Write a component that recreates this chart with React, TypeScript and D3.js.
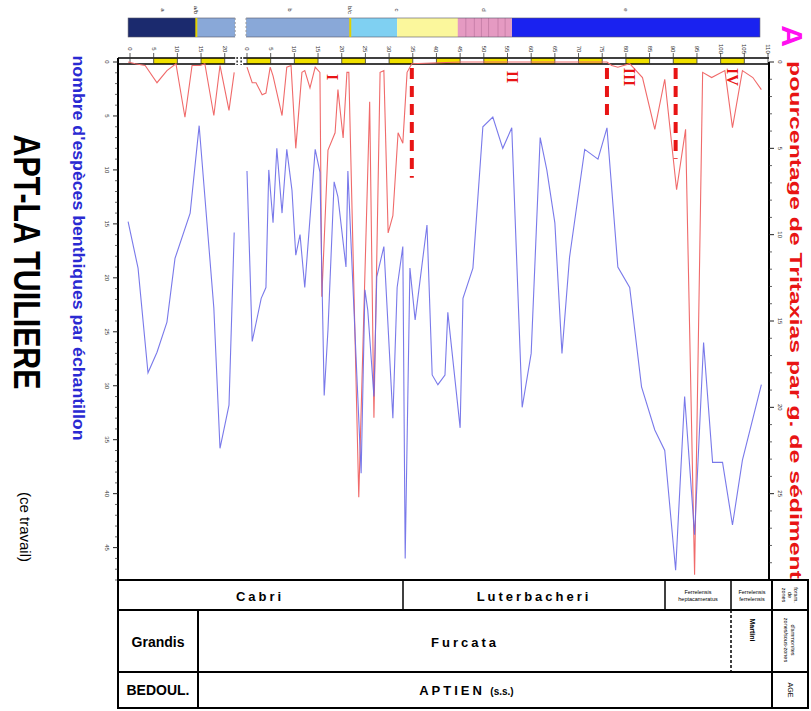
import React from 'react';
import * as d3 from 'd3';

// levels along the section (top axis) : lower part (before the gap) and upper part
const lowerLevels = [0, 5, 10, 15, 20];
const upperLevels = [0, 5, 10, 15, 20, 25, 30, 35, 40, 45, 50, 55, 60, 65, 70, 75, 80, 85, 90, 95, 100, 105, 110];
const lowerYellow = [5, 15];
const upperYellow = [0, 10, 20, 30, 40, 50, 60, 70, 80, 90, 100];

const countTicks = [0, 5, 10, 15, 20, 25, 30, 35, 40, 45];
const pctTicks = [0, 5, 10, 15, 20, 25];

// nombre d'especes benthiques (blue)
const benthicLevelsA = [-0.4, 1.7, 3.8, 5.7, 7.8, 9.5, 12.7, 14.6, 17.7, 19.0, 20.9, 22.0];
const benthicCountA = [14.8, 19.1, 28.8, 26.9, 24.1, 18.2, 14.0, 5.9, 22.8, 35.8, 31.8, 15.8];
const benthicLevelsB = [0, 1.1, 3.0, 4.0, 4.6, 5.5, 6.3, 7.4, 8.4, 9.5, 10.3, 11.2, 12.2, 14.4, 15.4, 16.3, 17.1, 18.4, 19.2, 20.9, 21.3, 24.1, 24.9, 25.5, 26.8, 27.4, 28.9, 30.8, 31.7, 32.9, 33.4, 34.4, 35.5, 38.0, 39.1, 40.3, 41.8, 42.4, 45.0, 45.6, 47.7, 49.8, 51.9, 54.0, 55.9, 58.1, 60.0, 61.9, 63.3, 65.0, 66.5, 68.1, 71.3, 74.1, 76.0, 78.3, 80.8, 83.3, 86.1, 88.2, 90.5, 92.4, 94.5, 96.4, 98.3, 100.4, 102.5, 104.6, 108.6];
const benthicCountB = [10.1, 25.9, 21.9, 20.9, 10.0, 14.9, 8.0, 14.0, 8.1, 11.9, 17.9, 16.0, 20.9, 8.1, 10.2, 30.9, 24.8, 11.1, 12.5, 19.0, 10.1, 38.1, 21.1, 23.0, 31.0, 19.9, 17.1, 33.0, 20.9, 17.1, 46.0, 19.1, 23.9, 15.1, 29.0, 29.9, 29.0, 23.2, 33.9, 21.9, 19.1, 6.0, 5.1, 8.0, 6.1, 32.0, 27.0, 7.0, 10.0, 14.9, 27.0, 18.1, 8.1, 9.0, 6.1, 19.0, 20.9, 30.1, 34.1, 36.0, 47.1, 31.0, 43.8, 26.0, 37.1, 37.1, 42.9, 36.9, 29.9];

// pourcentage de Tritaxias (red)
const tritaxLevelsA = [-0.4, 1.1, 3.2, 5.7, 7.8, 9.7, 11.6, 13.1, 14.8, 15.8, 17.7, 19.0, 20.9, 22.0];
const tritaxPctA = [0, 0.1, 0.2, 1.2, 0.5, 0.1, 3.2, 0.2, 0.2, 0.1, 3.1, 0.2, 2.8, 0.6];
const tritaxLevelsB = [0, 1.1, 1.9, 3.2, 4.0, 4.9, 5.5, 7.4, 8.4, 9.3, 10.3, 11.6, 12.2, 13.3, 14.4, 15.4, 15.8, 17.1, 18.6, 19.2, 20.3, 21.1, 21.5, 23.6, 25.9, 26.8, 28.1, 28.9, 29.8, 30.8, 31.9, 32.9, 33.8, 34.8, 45.0, 60.0, 76.0, 77.0, 78.3, 80.8, 83.5, 86.1, 88.2, 90.7, 92.6, 94.5, 96.2, 98.1, 100.9, 102.5, 104.6, 106.8, 108.6];
const tritaxPctB = [0.3, 1.2, 1.2, 1.9, 1.8, 0.3, 0.8, 3.1, 0.3, 0.2, 5.0, 0.6, 0.5, 1.5, 0.3, 0.6, 13.6, 5.1, 4.1, 1.6, 4.4, 0.6, 0.6, 25.2, 2.3, 20.6, 0.6, 0.5, 9.9, 8.9, 4.1, 4.7, 0.6, 0.1, 0, 0, 0, 0.2, 0.3, 0.1, 0.9, 3.9, 1.0, 7.4, 3.9, 29.7, 0.6, 0.9, 0.5, 3.8, 0.5, 0.9, 1.6];

// sequence band above the log (levels, part 0 = lower, 1 = upper)
const bandNames = ['a', 'b', 'b', 'c', 'd', 'e'];
const bandPart = [0, 0, 1, 1, 1, 1];
const bandFrom = [-0.4, 14.0, -0.2, 21.8, 31.7, 55.9];
const bandTo = [14.0, 22.2, 21.8, 31.7, 55.9, 108.3];
const bandColors = ['#1b2a6e', '#89a8d8', '#89a8d8', '#7fd0f2', '#fbf79c', '#1a22f0'];
const bandLabels = ['a', 'a/b', 'b', 'b/c', 'c', 'd', 'e'];
const bandLabelPart = [0, 0, 1, 1, 1, 1, 1];
const bandLabelAt = [7, 14.0, 9, 21.8, 31.7, 50, 80];
const pinkFrom = 44.5;
const pinkTo = 55.9;
const pinkStripes = [46.2, 48.0, 49.5, 51.0, 53.0, 54.5];

// limits between assemblages (dashed red) and their numbers
const limitLevels = [34.8, 76.0, 90.5];
const limitDepth = [6.7, 3.2, 5.6];
const assemblageNames = ['I', 'II', 'III', 'IV'];
const assemblageAt = [18.0, 56.1, 80.8, 102.5];

const GAP = 24.7;
const FONT = 'Liberation Sans, Arial, sans-serif';

export default function App() {
  const xs = d3.scaleLinear().domain([0, 134.7]).range([130, 768]);
  const X = (part: number, v: number) => xs(part === 0 ? v : v + GAP);
  const yL = d3.scaleLinear().domain([0, 48]).range([62, 580]);
  const yR = d3.scaleLinear().domain([0, 30]).range([62, 580]);

  const blueLine = d3.line<[number, number]>().x(d => d[0]).y(d => yL(d[1]));
  const redLine = d3.line<[number, number]>().x(d => d[0]).y(d => yR(d[1]));
  const zip = (part: number, a: number[], b: number[]) => a.map((v, i) => [X(part, v), b[i]] as [number, number]);

  const left = 118, right = 769, top = 62, bottom = 580;
  const barTop = 58, barBot = 64;

  const rot = (x: number, y: number) => `translate(${x},${y}) rotate(90)`;

  return (
    <svg width={811} height={711} style={{ position: 'absolute', left: 0, top: 0, background: '#fff' }} fontFamily={FONT}>
      {/* sequence band */}
      {bandNames.map((n, i) => (
        <rect key={'b' + i} x={X(bandPart[i], bandFrom[i])} y={18} width={X(bandPart[i], bandTo[i]) - X(bandPart[i], bandFrom[i])} height={19} fill={bandColors[i]} />
      ))}
      <rect x={X(1, pinkFrom)} y={18} width={X(1, pinkTo) - X(1, pinkFrom)} height={19} fill="#e59ac2" />
      {pinkStripes.map((s, i) => (
        <line key={'p' + i} x1={X(1, s)} x2={X(1, s)} y1={18} y2={37} stroke="#c27aa3" strokeWidth={0.8} />
      ))}
      <rect x={X(0, -0.4)} y={18} width={X(1, 108.3) - X(0, -0.4)} height={19} fill="none" stroke="#556" strokeWidth={0.6} />
      <rect x={X(0, 22.2)} y={17} width={X(1, -0.2) - X(0, 22.2)} height={21} fill="#fff" />
      <line x1={X(0, 22.2)} x2={X(0, 22.2)} y1={18} y2={37} stroke="#999" strokeDasharray="2 2" />
      <line x1={X(1, -0.2)} x2={X(1, -0.2)} y1={18} y2={37} stroke="#999" strokeDasharray="2 2" />
      <line x1={X(0, 14.0)} x2={X(0, 14.0)} y1={18} y2={37} stroke="#e2d000" strokeWidth={2} />
      <line x1={X(1, 21.8)} x2={X(1, 21.8)} y1={18} y2={37} stroke="#e2d000" strokeWidth={2} />
      {bandLabels.map((t, i) => (
        <text key={'bl' + i} transform={rot(X(bandLabelPart[i], bandLabelAt[i]), 10)} fontSize={6} textAnchor="middle" dominantBaseline="central" fill="#333">{t}</text>
      ))}

      {/* top level bar */}
      <rect x={left} y={barTop} width={right - left} height={barBot - barTop} fill="#fff" />
      {lowerYellow.map((v, i) => (
        <rect key={'ly' + i} x={X(0, v)} y={barTop} width={X(0, v + 5) - X(0, v)} height={barBot - barTop} fill="#f0e000" />
      ))}
      {upperYellow.map((v, i) => (
        <rect key={'uy' + i} x={X(1, v)} y={barTop} width={X(1, v + 5) - X(1, v)} height={barBot - barTop} fill="#f0e000" />
      ))}
      <line x1={left} x2={right} y1={barTop} y2={barTop} stroke="#000" strokeWidth={1.6} />
      <line x1={left} x2={right} y1={barBot} y2={barBot} stroke="#000" strokeWidth={1.6} />
      <rect x={X(0, 22.2)} y={barTop - 2} width={X(1, -0.8) - X(0, 22.2)} height={barBot - barTop + 4} fill="#fff" />
      {[0, 1].map(k => (
        <g key={'brk' + k}>
          <line x1={X(0, 22.2) + 2 + k * 4} x2={X(0, 22.2) + 2 + k * 4} y1={barTop - 1} y2={barBot + 1} stroke="#333" strokeWidth={1.5} strokeDasharray="2 1.5" />
        </g>
      ))}
      {lowerLevels.map(v => (
        <g key={'lt' + v}>
          <line x1={X(0, v)} x2={X(0, v)} y1={barTop - 5} y2={barBot} stroke="#333" strokeWidth={0.8} />
          <text transform={rot(X(0, v), 49)} fontSize={6} textAnchor="middle" dominantBaseline="central" fill="#333">{v}</text>
        </g>
      ))}
      {upperLevels.map(v => (
        <g key={'ut' + v}>
          <line x1={X(1, v)} x2={X(1, v)} y1={barTop - 5} y2={barBot} stroke="#333" strokeWidth={0.8} />
          <text transform={rot(X(1, v), 49)} fontSize={6} textAnchor="middle" dominantBaseline="central" fill="#333">{v}</text>
        </g>
      ))}

      {/* left axis */}
      <line x1={left} x2={left} y1={barTop} y2={bottom} stroke="#000" strokeWidth={2} />
      {d3.range(0, 49).map(v => (
        <line key={'lm' + v} x1={left - (v % 5 === 0 ? 5 : 3)} x2={left} y1={yL(v)} y2={yL(v)} stroke="#222" strokeWidth={v % 5 === 0 ? 1 : 0.7} />
      ))}
      {countTicks.map(v => (
        <text key={'lc' + v} transform={rot(left - 11, yL(v))} fontSize={6} textAnchor="middle" dominantBaseline="central" fill="#333">{v}</text>
      ))}

      {/* right axis */}
      <line x1={right} x2={right} y1={top} y2={bottom} stroke="#000" strokeWidth={2} />
      {d3.range(0, 31).map(v => (
        <line key={'rm' + v} x1={right} x2={right + (v % 5 === 0 ? 5 : 3)} y1={yR(v)} y2={yR(v)} stroke="#222" strokeWidth={v % 5 === 0 ? 1 : 0.7} />
      ))}
      {pctTicks.map(v => (
        <text key={'rc' + v} transform={rot(right + 11, yR(v))} fontSize={6} textAnchor="middle" dominantBaseline="central" fill="#333">{v}</text>
      ))}

      {/* curves */}
      <path d={redLine(zip(0, tritaxLevelsA, tritaxPctA)) || ''} fill="none" stroke="#f06a6a" strokeWidth={1.1} />
      <path d={redLine(zip(1, tritaxLevelsB, tritaxPctB)) || ''} fill="none" stroke="#f06a6a" strokeWidth={1.1} />
      <path d={blueLine(zip(0, benthicLevelsA, benthicCountA)) || ''} fill="none" stroke="#6a6ae8" strokeWidth={1.1} strokeOpacity={0.9} />
      <path d={blueLine(zip(1, benthicLevelsB, benthicCountB)) || ''} fill="none" stroke="#6a6ae8" strokeWidth={1.1} strokeOpacity={0.9} />

      {/* assemblage limits */}
      {limitLevels.map((v, i) => (
        <line key={'lim' + i} x1={X(1, v)} x2={X(1, v)} y1={yR(0.35)} y2={yR(limitDepth[i])} stroke="#e81414" strokeWidth={4} strokeDasharray="11 7" />
      ))}
      {assemblageNames.map((t, i) => (
        <text key={'as' + i} transform={rot(X(1, assemblageAt[i]), 77)} fontSize={16} fontWeight="bold" fontFamily="Liberation Serif, Times New Roman, serif" textAnchor="middle" dominantBaseline="central" fill="#e81414">{t}</text>
      ))}

      {/* titles */}
      <text transform={rot(26, 262)} fontSize={36} fontWeight="bold" textAnchor="middle" dominantBaseline="central" textLength={255} lengthAdjust="spacingAndGlyphs" fill="#000">APT-LA TUILIERE</text>
      <text transform={rot(25, 527)} fontSize={15} textAnchor="middle" dominantBaseline="central" fill="#000">(ce travail)</text>
      <text transform={rot(78, 248)} fontSize={16} fontWeight="bold" textAnchor="middle" dominantBaseline="central" textLength={385} lengthAdjust="spacingAndGlyphs" fill="#2a2ad2">nombre d'espèces benthiques par échantillon</text>
      <text transform={rot(795, 320)} fontSize={17} fontWeight="bold" textAnchor="middle" dominantBaseline="central" textLength={518} lengthAdjust="spacingAndGlyphs" fill="#e81414">pourcentage de Tritaxias par g. de sédiment</text>
      <text transform={rot(792, 36)} fontSize={30} fontWeight="bold" textAnchor="middle" dominantBaseline="central" fill="#ff10f0">A</text>

      {/* zone table */}
      <g stroke="#000" fill="none">
        <rect x={left} y={bottom} width={808 - left} height={708 - bottom} strokeWidth={2} />
        <line x1={left} x2={808} y1={610} y2={610} strokeWidth={2} />
        <line x1={left} x2={808} y1={672} y2={672} strokeWidth={2} />
        <line x1={403} x2={403} y1={bottom} y2={610} strokeWidth={1.5} />
        <line x1={665} x2={665} y1={bottom} y2={610} strokeWidth={1.5} />
        <line x1={731} x2={731} y1={bottom} y2={610} strokeWidth={1.5} />
        <line x1={731} x2={731} y1={610} y2={672} strokeWidth={1.5} strokeDasharray="3 2" />
        <line x1={right + 3} x2={right + 3} y1={bottom} y2={708} strokeWidth={2} />
        <line x1={198} x2={198} y1={610} y2={708} strokeWidth={2} />
      </g>
      <g fill="#000" fontWeight="bold" textAnchor="middle" dominantBaseline="central">
        <text x={260} y={596} fontSize={13} letterSpacing={3}>Cabri</text>
        <text x={534} y={596} fontSize={13} letterSpacing={3}>Luterbacheri</text>
        <text x={698} y={592} fontSize={5.5} fontWeight="normal">Ferrelensis</text>
        <text x={698} y={599} fontSize={5.5} fontWeight="normal">heptacameratus</text>
        <text x={752} y={592} fontSize={5.5} fontWeight="normal">Ferrelensis</text>
        <text x={752} y={599} fontSize={5.5} fontWeight="normal">ferrelensis</text>
        <text x={158} y={642} fontSize={14}>Grandis</text>
        <text x={465} y={642} fontSize={13} letterSpacing={3}>Furcata</text>
        <text x={158} y={690} fontSize={14}>BEDOUL.</text>
        <text x={452} y={690} fontSize={13} letterSpacing={3}>APTIEN</text>
        <text x={502} y={691} fontSize={10}>(s.s.)</text>
      </g>
      <g fill="#000" textAnchor="middle" dominantBaseline="central">
        <text transform={rot(752, 630)} fontSize={7} fontWeight="bold">Martini</text>
        <text transform={rot(784, 595)} fontSize={5.5}>zones</text>
        <text transform={rot(790, 595)} fontSize={5.5}>de</text>
        <text transform={rot(796, 595)} fontSize={5.5}>foram.</text>
        <text transform={rot(786, 640)} fontSize={5.5}>zones/sous-zones</text>
        <text transform={rot(793, 640)} fontSize={5.5}>d'ammonites</text>
        <text transform={rot(790, 690)} fontSize={7}>AGE</text>
      </g>
    </svg>
  );
}
